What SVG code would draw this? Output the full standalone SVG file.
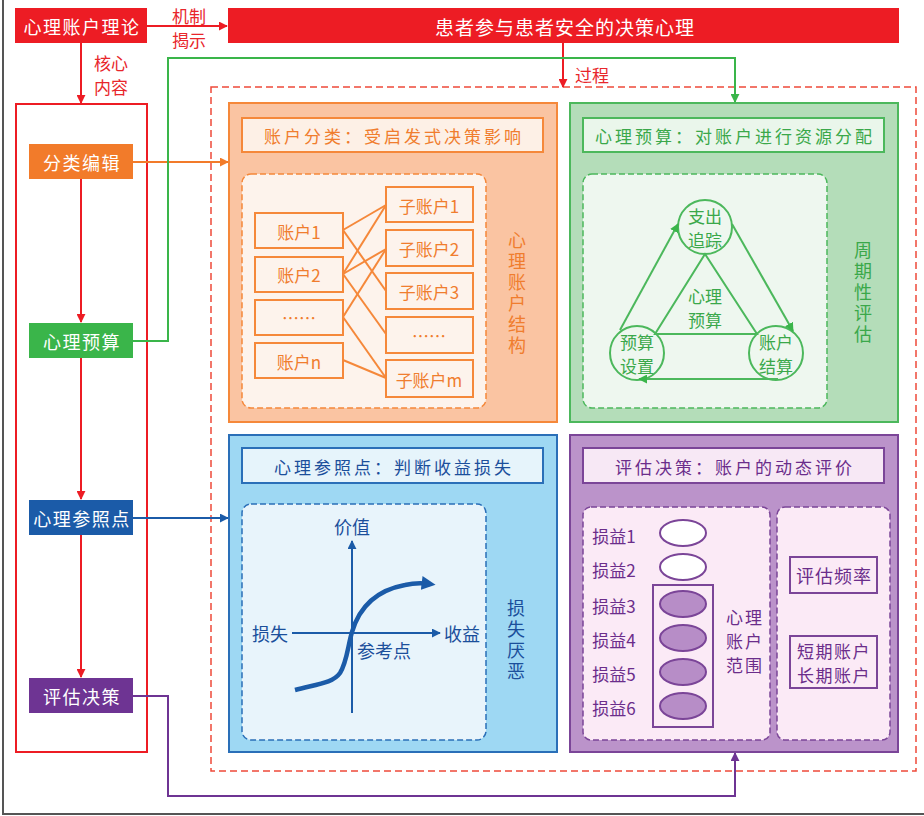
<svg xmlns="http://www.w3.org/2000/svg" width="924" height="816" viewBox="0 0 924 816">
<defs>
<style>
text{font-family:"Noto Sans CJK SC","Noto Sans",sans-serif;dominant-baseline:central;text-anchor:middle}
.w{fill:#fff;font-size:18px;letter-spacing:1.5px}
.red{fill:#E8262B;font-size:17px}
.t{font-size:17px;letter-spacing:3px}
.s{font-size:17px}
.vt{font-size:18px;writing-mode:vertical-rl;text-orientation:upright;text-anchor:start;letter-spacing:3px}
</style>
<marker id="aR" viewBox="0 0 10 10" refX="9" refY="5" markerWidth="9" markerHeight="9" markerUnits="userSpaceOnUse" orient="auto"><path d="M0,0 L10,5 L0,10 Z" fill="#ED1C24"/></marker>
<marker id="aO" viewBox="0 0 10 10" refX="9" refY="5" markerWidth="9" markerHeight="9" markerUnits="userSpaceOnUse" orient="auto"><path d="M0,0 L10,5 L0,10 Z" fill="#F27B2A"/></marker>
<marker id="aG" viewBox="0 0 10 10" refX="9" refY="5" markerWidth="9" markerHeight="9" markerUnits="userSpaceOnUse" orient="auto"><path d="M0,0 L10,5 L0,10 Z" fill="#3AB54A"/></marker>
<marker id="aB" viewBox="0 0 10 10" refX="9" refY="5" markerWidth="9" markerHeight="9" markerUnits="userSpaceOnUse" orient="auto"><path d="M0,0 L10,5 L0,10 Z" fill="#1B5BA8"/></marker>
<marker id="aB2" viewBox="0 0 10 10" refX="6" refY="5" markerWidth="14" markerHeight="14" markerUnits="userSpaceOnUse" orient="auto"><path d="M0,0 L10,5 L0,10 Z" fill="#1B5BA8"/></marker>
<marker id="aP" viewBox="0 0 10 10" refX="9" refY="5" markerWidth="9" markerHeight="9" markerUnits="userSpaceOnUse" orient="auto"><path d="M0,0 L10,5 L0,10 Z" fill="#6E3493"/></marker>
</defs>
<rect width="924" height="816" fill="#fff"/>
<path d="M3,0 V814 H924" fill="none" stroke="#555" stroke-width="2"/>

<!-- dashed process container -->
<rect id="process" x="211" y="87" width="705" height="684" fill="none" stroke="#EE4A3A" stroke-width="1.5" stroke-dasharray="7,4"/>

<g id="theory"><rect x="15" y="8" width="132" height="35" fill="#ED1C24"/><text class="w" x="82" y="26">心理账户理论</text></g>
<g id="main"><rect x="228" y="8" width="671" height="35" fill="#ED1C24"/><text class="w" x="565" y="26" style="font-size:19px;letter-spacing:1px">患者参与患者安全的决策心理</text></g>

<g id="leftbox"><rect x="16" y="104" width="131" height="648" fill="#fff" stroke="#ED1C24" stroke-width="2"/></g>
<g id="n-classify"><rect x="29" y="144" width="104" height="35" fill="#F27B2A"/><text class="w" x="82" y="162">分类编辑</text></g>
<g id="n-budget"><rect x="29" y="323" width="104" height="35" fill="#3AB54A"/><text class="w" x="82" y="341">心理预算</text></g>
<g id="n-ref"><rect x="29" y="500" width="104" height="35" fill="#1B5BA8"/><text class="w" x="82" y="518">心理参照点</text></g>
<g id="n-eval"><rect x="29" y="678" width="104" height="35" fill="#6E3493"/><text class="w" x="82" y="696">评估决策</text></g>

<g id="connectors" fill="none" stroke-width="2">
<line x1="147" y1="26" x2="227" y2="26" stroke="#ED1C24" marker-end="url(#aR)"/>
<line x1="81" y1="43" x2="81" y2="103" stroke="#ED1C24" marker-end="url(#aR)"/>
<line x1="81" y1="179" x2="81" y2="322" stroke="#ED1C24" marker-end="url(#aR)"/>
<line x1="81" y1="358" x2="81" y2="499" stroke="#ED1C24" marker-end="url(#aR)"/>
<line x1="81" y1="535" x2="81" y2="677" stroke="#ED1C24" marker-end="url(#aR)"/>
<line x1="563" y1="43" x2="563" y2="87" stroke="#ED1C24" marker-end="url(#aR)"/>
<line x1="133" y1="162" x2="228" y2="162" stroke="#F27B2A" marker-end="url(#aO)"/>
<path d="M133,341 H168 V58 H735 V102" stroke="#3AB54A" marker-end="url(#aG)"/>
<line x1="133" y1="518" x2="228" y2="518" stroke="#1B5BA8" marker-end="url(#aB)"/>
<path d="M133,696 H168 V796 H735 V753" stroke="#6E3493" marker-end="url(#aP)"/>
<text class="red"><tspan x="189" y="15">机制</tspan><tspan x="189" y="39">揭示</tspan></text>
<text class="red"><tspan x="111" y="62">核心</tspan><tspan x="111" y="86">内容</tspan></text>
<text class="red" x="592" y="74">过程</text>
</g>

<!-- orange panel -->
<g id="p-classify">
<rect x="229" y="103" width="328" height="319" fill="#FAC4A2" stroke="#F5883A" stroke-width="2"/>
<rect x="242" y="118" width="301" height="34" fill="#FDF0E6" stroke="#F5883A" stroke-width="2"/>
<text class="t" x="394" y="135" fill="#F07D2E">账户分类：受启发式决策影响</text>
<rect x="242" y="174" width="244" height="234" rx="9" fill="#FDF3EC" stroke="#F5883A" stroke-width="1.5" stroke-dasharray="6,3"/>
<g fill="#FDF3EC" stroke="#F5883A" stroke-width="2">
<rect x="255" y="213" width="88" height="35"/><rect x="255" y="257" width="88" height="35"/><rect x="255" y="300" width="88" height="35"/><rect x="255" y="343" width="88" height="35"/>
<rect x="386" y="187" width="87" height="35"/><rect x="386" y="230" width="87" height="36"/><rect x="386" y="273" width="87" height="36"/><rect x="386" y="317" width="87" height="36"/><rect x="386" y="360" width="87" height="37"/>
</g>
<g stroke="#F5883A" stroke-width="2">
<line x1="343" y1="230" x2="386" y2="205"/><line x1="343" y1="230" x2="386" y2="291"/>
<line x1="343" y1="274" x2="386" y2="205"/><line x1="343" y1="274" x2="386" y2="249"/><line x1="343" y1="274" x2="386" y2="334"/>
<line x1="343" y1="317" x2="386" y2="249"/><line x1="343" y1="317" x2="386" y2="378"/>
<line x1="343" y1="360" x2="386" y2="378"/>
</g>
<g fill="#F07D2E">
<text class="s" x="299" y="231">账户1</text><text class="s" x="299" y="274">账户2</text><text class="s" x="299" y="317">……</text><text class="s" x="299" y="361">账户n</text>
<text class="s" x="429" y="205">子账户1</text><text class="s" x="429" y="248">子账户2</text><text class="s" x="429" y="291">子账户3</text><text class="s" x="429" y="335">……</text><text class="s" x="429" y="379">子账户m</text>
</g>
<text class="vt" x="517" y="231" fill="#F07D2E">心理账户结构</text>
</g>

<!-- green panel -->
<g id="p-budget">
<rect x="570" y="103" width="328" height="319" fill="#B4DDB9" stroke="#4CB85C" stroke-width="2"/>
<rect x="583" y="118" width="301" height="34" fill="#EAF6EB" stroke="#4CB85C" stroke-width="2"/>
<text class="t" x="735" y="135" fill="#3AA84A">心理预算：对账户进行资源分配</text>
<rect x="583" y="174" width="244" height="234" rx="9" fill="#EEF7EF" stroke="#4CB85C" stroke-width="1.5" stroke-dasharray="6,3"/>
<g fill="none" stroke="#4CB85C" stroke-width="2">
<circle cx="705" cy="227" r="27"/><circle cx="637" cy="353" r="27"/><circle cx="776" cy="353" r="27"/>
<path d="M655,334 L705,254 L757,334 Z"/>
<line x1="620" y1="330" x2="678" y2="224" marker-end="url(#aG)"/>
<line x1="732" y1="224" x2="793" y2="331" marker-end="url(#aG)"/>
<line x1="778" y1="379" x2="639" y2="379" marker-end="url(#aG)"/>
</g>
<g fill="#3AA84A" style="font-size:17px">
<text><tspan x="705" y="215">支出</tspan><tspan x="705" y="239">追踪</tspan></text>
<text><tspan x="637" y="341">预算</tspan><tspan x="637" y="365">设置</tspan></text>
<text><tspan x="776" y="341">账户</tspan><tspan x="776" y="365">结算</tspan></text>
<text><tspan x="705" y="295">心理</tspan><tspan x="705" y="319">预算</tspan></text>
</g>
<text class="vt" x="863" y="241" fill="#3AA84A">周期性评估</text>
</g>

<!-- blue panel -->
<g id="p-ref">
<rect x="229" y="435" width="328" height="317" fill="#9ED8F3" stroke="#2A6FB8" stroke-width="2"/>
<rect x="242" y="448" width="301" height="35" fill="#E6F4FB" stroke="#2A6FB8" stroke-width="2"/>
<text class="t" x="394" y="466" fill="#1B4F9B">心理参照点：判断收益损失</text>
<rect x="242" y="504" width="244" height="236" rx="9" fill="#E8F4FB" stroke="#2A6FB8" stroke-width="1.5" stroke-dasharray="6,3"/>
<g fill="none" stroke="#1B5BA8" stroke-width="2">
<line x1="352" y1="713" x2="352" y2="541" marker-end="url(#aB)"/>
<line x1="292" y1="633" x2="440" y2="633" marker-end="url(#aB)"/>
<path d="M295,690 C318,684 333,683 340,673 C347,662 348,645 352,632 C360,605 378,590 405,585 C414,583 422,583 430,584" stroke-width="4.5" marker-end="url(#aB2)"/>
</g>
<g fill="#1B4F9B" style="font-size:18px">
<text x="352" y="526">价值</text><text x="270" y="633">损失</text><text x="462" y="633">收益</text><text x="384" y="650">参考点</text>
</g>
<text class="vt" x="516" y="599" fill="#1B4F9B">损失厌恶</text>
</g>

<!-- purple panel -->
<g id="p-eval">
<rect x="570" y="435" width="328" height="317" fill="#BB93CA" stroke="#7B4598" stroke-width="2"/>
<rect x="583" y="448" width="301" height="35" fill="#F7E8F5" stroke="#7B4598" stroke-width="2"/>
<text class="t" x="735" y="466" fill="#6B2D8B">评估决策：账户的动态评价</text>
<rect x="583" y="507" width="187" height="233" rx="8" fill="#FBEAF6" stroke="#7B4598" stroke-width="1.5" stroke-dasharray="6,3"/>
<rect x="777" y="507" width="113" height="233" rx="8" fill="#FBEAF6" stroke="#7B4598" stroke-width="1.5" stroke-dasharray="6,3"/>
<rect x="653" y="585" width="60" height="142" fill="none" stroke="#7B4598" stroke-width="2"/>
<g stroke="#7B4598" stroke-width="2">
<ellipse cx="683" cy="533" rx="23" ry="13" fill="#fff"/><ellipse cx="683" cy="567" rx="23" ry="13" fill="#fff"/>
<ellipse cx="683" cy="604" rx="23" ry="13" fill="#B78DC7"/><ellipse cx="683" cy="638" rx="23" ry="13" fill="#B78DC7"/>
<ellipse cx="683" cy="672" rx="23" ry="13" fill="#B78DC7"/><ellipse cx="683" cy="706" rx="23" ry="13" fill="#B78DC7"/>
</g>
<g fill="#6B2D8B" style="font-size:17px">
<text x="614" y="535">损益1</text><text x="614" y="569">损益2</text><text x="614" y="605">损益3</text><text x="614" y="639">损益4</text><text x="614" y="673">损益5</text><text x="614" y="707">损益6</text>
</g>
<text fill="#6B2D8B" style="font-size:17px;letter-spacing:2px"><tspan x="745" y="616">心理</tspan><tspan x="745" y="640">账户</tspan><tspan x="745" y="664">范围</tspan></text>
<rect x="790" y="557" width="87" height="36" fill="#FBEAF6" stroke="#7B4598" stroke-width="2"/>
<text x="834" y="575" fill="#6B2D8B" style="font-size:18px;letter-spacing:1px">评估频率</text>
<rect x="790" y="636" width="87" height="52" fill="#FBEAF6" stroke="#7B4598" stroke-width="2"/>
<text fill="#6B2D8B" style="font-size:17px;letter-spacing:1.5px"><tspan x="834" y="650">短期账户</tspan><tspan x="834" y="674">长期账户</tspan></text>
</g>
</svg>
